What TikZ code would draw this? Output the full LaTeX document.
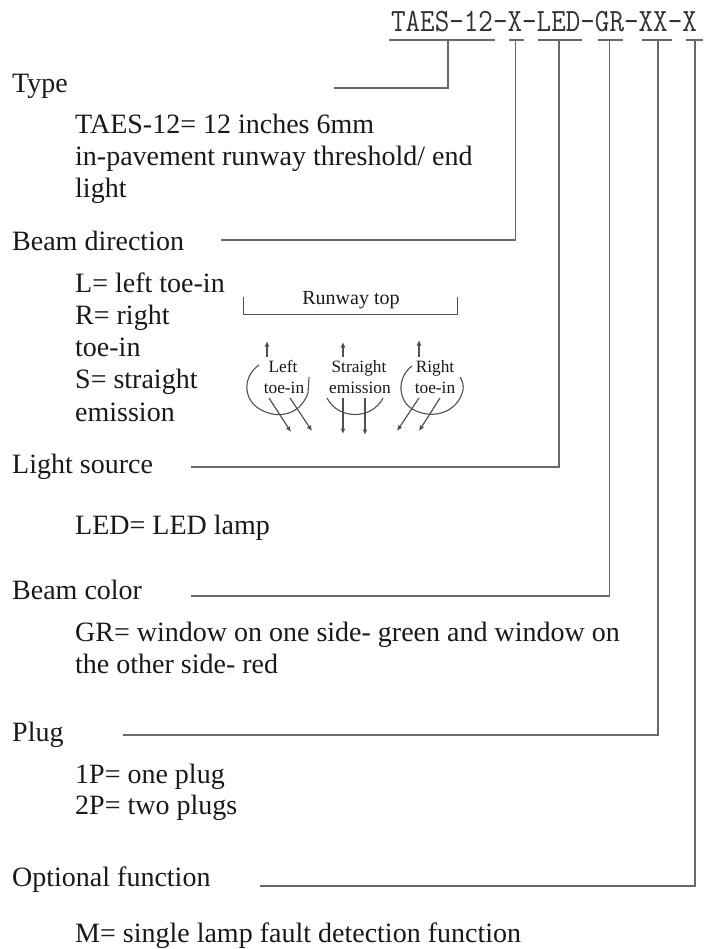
\documentclass[tikz,border=0pt]{standalone}
\usepackage{fontspec}
\setmainfont{Liberation Serif}
\newfontfamily\codefont[FakeStretch=0.87]{Latin Modern Mono}
\usetikzlibrary{arrows.meta}
\definecolor{C_rule}{RGB}{105,105,105}
\definecolor{C_ink}{RGB}{25,25,25}
\definecolor{C_sketch}{RGB}{80,80,80}
\definecolor{C_code}{RGB}{50,50,50}

\begin{document}
\begin{tikzpicture}[x=1pt,y=-1pt]
  \tikzset{
    rulebar/.style={C_rule, line width=1.2pt},
    head/.style={anchor=base west, inner sep=0pt, text=C_ink, font=\fontsize{28}{30}\selectfont},
    body/.style={head},
    small/.style={anchor=base, inner sep=0pt, text=C_ink, font=\fontsize{17.3}{19}\selectfont},
    code/.style={inner sep=0pt, anchor=base, text=C_code, font=\codefont\fontsize{32.5}{34}\selectfont},
    bracket/.style={C_sketch, line width=0.9pt},
    swing/.style={C_sketch, line width=1.1pt},
    beam/.style={-{Latex[length=5.5pt,width=5pt]}, C_sketch, line width=1.2pt}
  }
  \useasboundingbox (0,0) rectangle (704,949);

  \node[code] (model) at (544,32) {TAES-12-X-LED-GR-XX-X};

  % headings
  \foreach \n/\y/\txt in {type/93/Type,dir/251/Beam direction,src/473/Light source,col/599/Beam color,plug/741/Plug,opt/886/Optional function} {
    \node[head] (\n) at (12,\y) {\txt};
  }

  % description lines
  \foreach \n/\y/\txt in {a/134/{TAES-12= 12 inches 6mm},b/166/{in-pavement runway threshold/ end},c/198/{light},
    d/292/{L= left toe-in},e/324/{R= right},f/356/{toe-in},g/388/{S= straight},h/421/{emission},
    i/534/{LED= LED lamp},j/641/{GR= window on one side- green and window on},k/673/{the other side- red},
    l/783/{1P= one plug},m/814/{2P= two plugs},o/942/{M= single lamp fault detection function}} {
    \node[body] (line\n) at (75,\y) {\txt};
  }

  % bars under the model code and their leaders
  \foreach \n/\xa/\xb/\xv/\yv/\xs in {p1/389/495/448/88/334,p2/509/524/515.5/240/221,p3/538/582/559/467/191,p4/598/623/609.5/596/191,p5/642/672/658/735/123,p6/686/703/695/886/260} {
    \coordinate (\n a) at (\xa,40);
    \coordinate (\n b) at (\xb,40);
    \coordinate (\n t) at (\xv,40);
    \coordinate (\n e) at (\xs,\yv);
    \draw[rulebar] (\n a) -- (\n b);
    \draw[rulebar] (\n t) |- (\n e);
  }

  % runway sketch
  \coordinate (ba) at (243,297);
  \coordinate (bb) at (243,314);
  \coordinate (bc) at (457,314);
  \coordinate (bd) at (457,297);
  \draw[bracket] (ba) -- (bb) -- (bc) -- (bd);
  \node[small, font=\fontsize{20}{22}\selectfont] (top) at (351,304) {Runway top};

  \foreach \n/\x/\y/\txt in {t1/283/372/Left,t2/284/393/toe-in,t3/359/372/Straight,t4/360/393/emission,t5/435/372/Right,t6/435/393/toe-in} {
    \node[small] (\n) at (\x,\y) {\txt};
  }

  \foreach \n/\x/\yb/\yt in {u1/267/357/341,u2/343/357/342,u3/419/357/340} {
    \coordinate (\n a) at (\x,\yb);
    \coordinate (\n b) at (\x,\yt);
    \draw[beam] (\n a) -- (\n b);
  }

  \draw[swing] (259,365) .. controls (243,376) and (243,398) .. (258,408) .. controls (276,420) and (300,416) .. (308,393) -- (309,377);
  \draw[swing] (327,398) .. controls (338,420) and (372,420) .. (383,398);
  \draw[swing] (412,366) .. controls (396,378) and (398,402) .. (414,410) .. controls (434,420) and (458,412) .. (463,390) .. controls (464,385) and (462,380) .. (460,377);

  \foreach \n/\xa/\xb/\xc/\xd in {r1/269/398/291/432,r2/290/398/312/431,r3/343/398/343/434,r4/365/398/365/435,r5/419/398/397/431,r6/440/398/419/431} {
    \coordinate (\n a) at (\xa,\xb);
    \coordinate (\n b) at (\xc,\xd);
    \draw[beam] (\n a) -- (\n b);
  }
\end{tikzpicture}
\end{document}
